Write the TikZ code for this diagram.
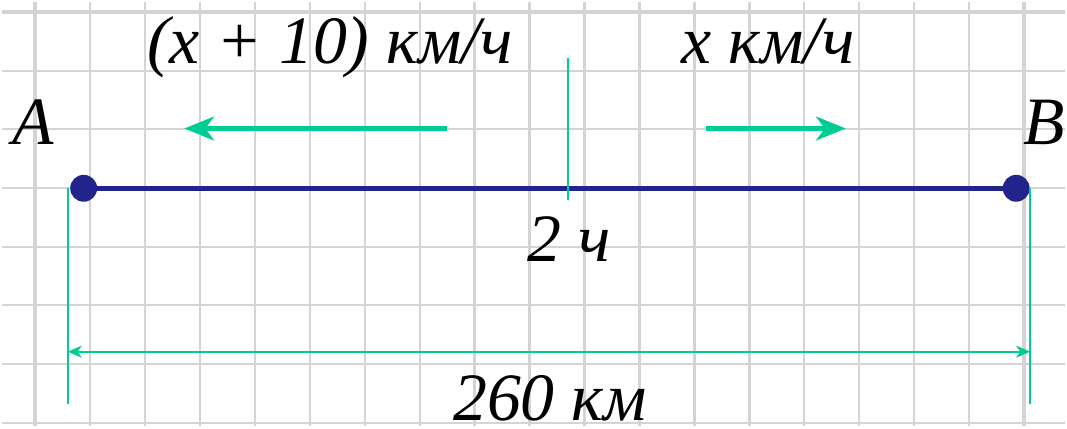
\documentclass[tikz,border=0pt]{standalone}
\usepackage{fontspec}
\setmainfont{Liberation Serif}
\usepackage{xcolor}
\definecolor{segblue}{RGB}{35,35,140}
\definecolor{movegreen}{RGB}{0,204,150}
\definecolor{gridgray}{RGB}{212,212,214}
\usetikzlibrary{arrows.meta,positioning}

\begin{document}
\begin{tikzpicture}[x=1pt,y=-1pt,
  lbl/.style={font=\fontsize{68}{72}\selectfont\itshape,inner sep=0pt,anchor=base},
  movearrow/.style={movegreen,line width=4.5pt,-{Stealth[length=30pt,width=24pt,inset=9pt]}},
  helper/.style={movegreen,line width=2pt},
  dimline/.style={movegreen,line width=2.2pt,{Stealth[length=14pt,width=12pt,inset=4pt]}-{Stealth[length=14pt,width=12pt,inset=4pt]}},
  pt/.style={circle,fill=segblue,minimum size=27pt,inner sep=0pt}]
  % Paper
  \fill[white] (0,0) rectangle (1067,426);
  \foreach \i in {0,...,18}
    \draw[gridgray,line width=2.2pt] ({33+55.17*\i},0) -- ({33+55.17*\i},426);
  \foreach \j in {0,...,7}
    \draw[gridgray,line width=2.2pt] (0,{10+58.9*\j}) -- (1067,{10+58.9*\j});
  \draw[gridgray,line width=4pt] (33,0) -- (33,426);
  \draw[gridgray,line width=4pt] (1026,0) -- (1026,426);
  \draw[gridgray,line width=4pt] (0,10) -- (1067,10);
  % Segment AB
  \node[pt] (a) at (82,187) {};
  \node[pt] (b) at (1018,187) {};
  \draw[segblue,line width=5pt] (a.center) -- (b.center);
  \node[lbl] (la) at (31,143) {A};
  \node[lbl] (lb) at (1046,143) {B};
  % Meeting point
  \coordinate (mtop) at (568,56);
  \coordinate (mbot) at (568,199);
  \draw[helper] (mtop) -- (mbot);
  \node[lbl] (time) at (569,260) {2 ч};
  % Speeds
  \node[lbl] (vleft) at (329,62) {(x + 10) км/ч};
  \node[lbl] (vright) at (769,62) {x км/ч};
  \coordinate (l1) at (447,127);
  \coordinate (l2) at (183,127);
  \coordinate (r1) at (707,127);
  \coordinate (r2) at (847,127);
  \draw[movearrow] (l1) -- (l2);
  \draw[movearrow] (r1) -- (r2);
  % Distance
  \coordinate (da) at (66,187);
  \coordinate (db) at (1032,187);
  \coordinate (da2) at (66,404);
  \coordinate (db2) at (1032,404);
  \draw[helper] (da) -- (da2);
  \draw[helper] (db) -- (db2);
  \draw[dimline] (66,351) -- (1032,351);
  \node[lbl] (dist) at (550,420) {260 км};
  \useasboundingbox (0,0) rectangle (1067,426);
\end{tikzpicture}
\end{document}
